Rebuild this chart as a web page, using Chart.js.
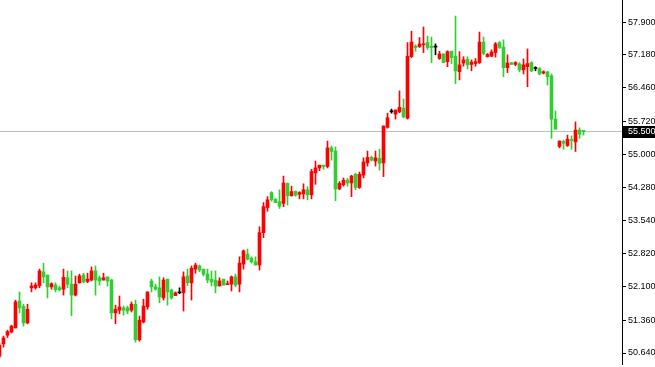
<!DOCTYPE html>
<html>
<head>
<meta charset="utf-8">
<script src="https://cdn.jsdelivr.net/npm/chart.js@4.4.0/dist/chart.umd.min.js"></script>
<style>
html, body { margin: 0; padding: 0; background: #fff; }
#wrap { width: 655px; height: 367px; }
</style>
</head>
<body>
<div id="wrap"><canvas id="chart"></canvas></div>
<script>
// candle data (one bar per slot)
const opens = [
  50.57, 50.84, 51.03, 51.10, 51.19, 51.78, 51.66, 51.30, 52.07, 52.07,
  52.12, 52.42, 52.35, 52.09, 52.13, 52.07, 52.04, 52.29, 52.15, 51.91,
  52.18, 52.35, 52.21, 52.24, 52.44, 52.29, 52.24, 52.31, 52.24, 51.52,
  51.58, 51.63, 51.63, 51.58, 51.71, 50.93, 51.32, 51.65, 52.22, 52.09,
  52.07, 51.85, 52.26, 52.02, 51.90, 51.96, 51.96, 52.33, 52.18, 52.48,
  52.55, 52.48, 52.37, 52.26, 52.24, 52.11, 52.26, 52.14, 52.15, 52.31,
  52.15, 52.59, 52.81, 52.72, 52.64, 52.57, 53.28, 53.83, 54.16, 54.01,
  53.96, 53.92, 54.36, 54.09, 54.19, 54.12, 54.13, 54.22, 54.11, 54.59,
  54.70, 54.76, 54.73, 55.14, 55.07, 54.24, 54.33, 54.43, 54.37, 54.56,
  54.27, 54.54, 54.81, 54.93, 54.85, 54.91, 54.81, 55.59, 55.93, 55.88,
  55.93, 56.01, 55.79, 57.14, 57.37, 57.36, 57.40, 57.45, 57.37, 57.35,
  57.10, 57.20, 57.03, 57.26, 57.15, 56.81, 57.00, 57.08, 56.97, 56.99,
  57.01, 57.46, 57.14, 57.15, 57.23, 57.45, 57.35, 56.90, 57.01, 56.97,
  56.98, 56.85, 56.92, 57.01, 56.88, 56.88, 56.78, 56.81, 56.72, 55.77,
  55.17, 55.28, 55.19, 55.31, 55.27, 55.53, 55.51
]
const highs = [
  50.86, 51.01, 51.14, 51.25, 51.80, 51.98, 51.71, 51.71, 52.18, 52.18,
  52.48, 52.61, 52.35, 52.18, 52.18, 52.11, 52.48, 52.44, 52.44, 52.33,
  52.37, 52.39, 52.39, 52.53, 52.55, 52.33, 52.39, 52.31, 52.26, 51.69,
  51.89, 51.67, 51.67, 51.76, 51.80, 51.45, 51.82, 51.98, 52.26, 52.15,
  52.31, 52.29, 52.26, 52.04, 51.98, 52.07, 52.42, 52.48, 52.55, 52.61,
  52.57, 52.48, 52.48, 52.44, 52.44, 52.29, 52.26, 52.22, 52.33, 52.37,
  52.75, 52.90, 52.92, 52.75, 52.75, 53.41, 53.94, 54.07, 54.18, 54.03,
  54.22, 54.52, 54.37, 54.30, 54.19, 54.18, 54.35, 54.29, 54.67, 54.85,
  54.76, 54.76, 55.29, 55.18, 55.16, 54.40, 54.48, 54.47, 54.54, 54.58,
  54.61, 54.92, 55.07, 54.96, 55.07, 55.11, 55.62, 55.90, 55.99, 55.97,
  56.39, 56.21, 57.45, 57.70, 57.40, 57.56, 57.79, 57.59, 57.57, 57.42,
  57.26, 57.20, 57.27, 57.26, 58.03, 57.25, 57.14, 57.14, 57.07, 57.10,
  57.68, 57.57, 57.21, 57.29, 57.45, 57.47, 57.51, 57.18, 57.01, 57.03,
  57.01, 57.09, 57.31, 57.03, 56.92, 56.90, 56.83, 56.81, 56.76, 55.95,
  55.29, 55.31, 55.42, 55.40, 55.71, 55.58, 55.51
]
const lows = [
  50.53, 50.77, 50.98, 51.08, 51.19, 51.52, 51.23, 51.28, 51.98, 52.04,
  52.07, 52.18, 51.85, 52.04, 51.98, 52.00, 51.91, 52.07, 51.46, 51.89,
  52.17, 52.18, 52.18, 52.22, 51.91, 52.13, 52.24, 52.11, 51.39, 51.28,
  51.50, 51.47, 51.50, 51.54, 50.88, 50.90, 51.30, 51.60, 51.98, 52.02,
  51.74, 51.80, 51.69, 51.82, 51.90, 51.94, 51.56, 52.12, 51.80, 52.39,
  52.42, 52.33, 52.18, 52.11, 51.96, 52.11, 52.13, 52.14, 52.00, 52.09,
  51.98, 52.48, 52.68, 52.61, 52.57, 52.46, 53.17, 53.75, 53.97, 53.94,
  53.81, 53.85, 53.89, 54.08, 54.08, 54.02, 54.02, 54.00, 54.02, 54.34,
  54.64, 54.67, 54.70, 54.87, 53.98, 54.22, 54.30, 54.30, 54.07, 54.22,
  54.25, 54.48, 54.74, 54.85, 54.74, 54.65, 54.51, 55.57, 55.90, 55.77,
  55.91, 55.80, 55.77, 57.12, 57.26, 57.34, 57.23, 57.30, 57.01, 57.18,
  57.08, 57.01, 56.92, 56.99, 56.55, 56.63, 56.93, 56.87, 56.83, 56.93,
  56.99, 57.18, 57.13, 57.14, 57.13, 57.32, 56.70, 56.79, 56.97, 56.94,
  56.81, 56.76, 56.48, 56.81, 56.83, 56.74, 56.76, 56.52, 55.35, 55.55,
  55.14, 55.11, 55.17, 55.11, 55.06, 55.35, 55.42
]
const closes = [
  50.81, 50.97, 51.11, 51.23, 51.76, 51.63, 51.30, 51.60, 52.11, 52.13,
  52.44, 52.31, 52.09, 52.16, 52.03, 52.03, 52.30, 52.15, 51.91, 52.15,
  52.33, 52.20, 52.26, 52.44, 52.24, 52.22, 52.29, 52.22, 51.52, 51.60,
  51.65, 51.58, 51.56, 51.71, 50.93, 51.36, 51.67, 51.98, 52.09, 52.04,
  51.87, 52.24, 51.98, 51.85, 51.96, 51.96, 52.31, 52.18, 52.50, 52.57,
  52.46, 52.37, 52.24, 52.20, 52.11, 52.22, 52.13, 52.16, 52.31, 52.13,
  52.61, 52.88, 52.70, 52.64, 52.57, 53.28, 53.85, 54.00, 54.00, 53.94,
  53.86, 54.37, 54.09, 54.18, 54.10, 54.16, 54.22, 54.11, 54.62, 54.70,
  54.76, 54.73, 55.14, 55.06, 54.24, 54.36, 54.43, 54.37, 54.52, 54.27,
  54.56, 54.83, 54.93, 54.87, 54.92, 54.80, 55.62, 55.80, 55.93, 55.97,
  56.03, 55.82, 57.15, 57.46, 57.34, 57.42, 57.42, 57.34, 57.34, 57.35,
  57.20, 57.01, 57.25, 57.12, 56.83, 56.96, 57.07, 56.96, 57.02, 57.03,
  57.46, 57.21, 57.19, 57.24, 57.42, 57.34, 56.90, 57.00, 56.97, 57.01,
  56.85, 56.96, 56.99, 56.83, 56.88, 56.76, 56.81, 56.70, 55.77, 55.55,
  55.29, 55.24, 55.33, 55.30, 55.53, 55.44, 55.50
]

const yTicks = [50.640, 51.360, 52.100, 52.820, 53.540, 54.280, 55.000, 55.720, 56.460, 57.180, 57.900]
const lastPrice = 55.500

const bullColor = '#ff0000'
const bearColor = '#32cd32'
const dojiColor = '#000000'

let bodies = []
let wicks = []
let colors = []
for (let i = 0; i < opens.length; i++) {
    bodies.push({x: i, y: [opens[i], closes[i]]})
    wicks.push({x: i, y: [lows[i], highs[i]]})
    if (closes[i] > opens[i]) colors.push(bullColor)
    else if (closes[i] < opens[i]) colors.push(bearColor)
    else colors.push(dojiColor)
}

const labelFont = '9px "Liberation Sans", Arial, sans-serif'

// bid line across the plot and the black price box on the axis
const priceLine = {
    id: 'priceLine',
    beforeDatasetsDraw(chart) {
        const {ctx, chartArea, scales} = chart
        const y = Math.round(scales.y.getPixelForValue(lastPrice)) + 0.5
        ctx.save()
        ctx.strokeStyle = '#c0c0c0'
        ctx.lineWidth = 1
        ctx.beginPath()
        ctx.moveTo(chartArea.left, y)
        ctx.lineTo(chartArea.right, y)
        ctx.stroke()
        ctx.restore()
    },
    afterDraw(chart) {
        const {ctx, chartArea, scales} = chart
        const y = Math.round(scales.y.getPixelForValue(lastPrice))
        ctx.save()
        ctx.fillStyle = '#000'
        ctx.fillRect(chartArea.right, y - 5, chart.width - chartArea.right, 12)
        ctx.fillStyle = '#fff'
        ctx.font = labelFont
        ctx.textBaseline = 'middle'
        ctx.textAlign = 'left'
        ctx.fillText(lastPrice.toFixed(3), chartArea.right + 6, y + 1)
        ctx.restore()
    }
}

let chart = new Chart(document.getElementById('chart').getContext('2d'), {
    type: 'bar',
    data: {
        datasets: [{
            label: 'body',
            data: bodies,
            backgroundColor: colors,
            borderWidth: 0,
            barThickness: 3,
            minBarLength: 1,
            grouped: false,
            order: 1
        }, {
            label: 'wick',
            data: wicks,
            backgroundColor: colors,
            borderWidth: 0,
            barThickness: 1,
            grouped: false,
            order: 2
        }]
    },
    options: {
        responsive: true,
        maintainAspectRatio: false,
        animation: false,
        layout: { padding: { left: 0, right: 0, top: 0, bottom: 3 } },
        plugins: {
            legend: { display: false },
            tooltip: { enabled: false }
        },
        scales: {
            x: {
                type: 'linear',
                display: false,
                offset: false,
                min: 0.125,
                max: 155.625
            },
            y: {
                position: 'right',
                min: 50.399,
                max: 58.383,
                afterBuildTicks: s => { s.ticks = yTicks.map(v => ({value: v})) },
                afterFit: s => { s.width = 33; s.paddingTop = 0; s.paddingBottom = 0 },
                ticks: {
                    autoSkip: false,
                    padding: 2,
                    color: '#000',
                    font: { family: '"Liberation Sans", Arial, sans-serif', size: 9 },
                    callback: v => v.toFixed(3)
                },
                grid: {
                    drawOnChartArea: false,
                    drawTicks: true,
                    tickLength: 4,
                    color: '#000'
                },
                border: { display: true, color: '#000', width: 1 }
            }
        }
    },
    plugins: [priceLine]
})
</script>
</body>
</html>
